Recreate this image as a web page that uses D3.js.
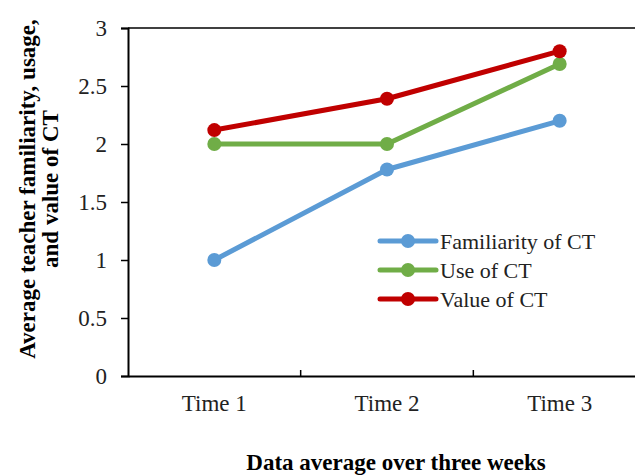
<!DOCTYPE html>
<html>
<head>
<meta charset="utf-8">
<script src="https://cdn.jsdelivr.net/npm/d3@7"></script>
<style>
  html, body { margin: 0; padding: 0; background: #fff; }
  svg text { font-family: "Liberation Serif", "DejaVu Serif", serif; fill: #222; }
</style>
</head>
<body>
<div id="chart"></div>
<script>
const categories = ['Time 1', 'Time 2', 'Time 3'];
const seriesNames = ['Familiarity of CT', 'Use of CT', 'Value of CT'];
const familiarity = [1.0, 1.78, 2.2];
const useOfCT = [2.0, 2.0, 2.69];
const valueOfCT = [2.12, 2.39, 2.8];
const yTicks = [0, 0.5, 1, 1.5, 2, 2.5, 3];
const colors = ['#5B9BD5', '#70AD47', '#C00000'];

const W = 635, H = 475;
const margin = { top: 28, right: -11, bottom: 99, left: 128 };
const width = W - margin.left - margin.right;
const height = H - margin.top - margin.bottom;

const svg = d3.select('#chart').append('svg')
    .attr('width', W).attr('height', H);
const g = svg.append('g')
    .attr('transform', 'translate(' + margin.left + ',' + margin.top + ')');

const x = d3.scaleBand().domain(categories).range([0, width]);
const y = d3.scaleLinear().domain([0, 3]).range([height, 0]);

// top line at max value
g.append('line')
    .attr('x1', 0).attr('x2', width)
    .attr('y1', y(3)).attr('y2', y(3))
    .attr('stroke', '#000').attr('stroke-width', 1.5);

// y axis
const yAxis = g.append('g')
    .call(d3.axisLeft(y).tickValues(yTicks).tickSize(7).tickPadding(14).tickFormat(d3.format('')));
yAxis.attr('font-family', null).attr('font-size', null);
yAxis.select('.domain').attr('stroke', '#000').attr('stroke-width', 2);
yAxis.selectAll('.tick line').attr('stroke', '#000').attr('stroke-width', 1.5);
yAxis.selectAll('text').style('font-size', '23px').attr('fill', '#222');

// x axis with ticks at band boundaries
const xAxis = g.append('g').attr('transform', 'translate(0,' + height + ')')
    .call(d3.axisBottom(x).tickSize(0).tickPadding(19));
xAxis.attr('font-family', null).attr('font-size', null);
xAxis.select('.domain').attr('stroke', '#000').attr('stroke-width', 2);
xAxis.selectAll('text').style('font-size', '23px').attr('fill', '#222');
g.selectAll('.xsep').data(categories.slice(1)).enter().append('line')
    .attr('x1', d => x(d)).attr('x2', d => x(d))
    .attr('y1', height).attr('y2', height - 6)
    .attr('stroke', '#000').attr('stroke-width', 1.5);

// series
const allSeries = [familiarity, useOfCT, valueOfCT];
const line = d3.line()
    .x((d, i) => x(categories[i]) + x.bandwidth() / 2)
    .y(d => y(d));

allSeries.forEach((vals, s) => {
    g.append('path').datum(vals)
        .attr('d', line)
        .attr('fill', 'none')
        .attr('stroke', colors[s])
        .attr('stroke-width', 5)
        .attr('stroke-linejoin', 'round')
        .attr('stroke-linecap', 'round');
    g.selectAll('.pt' + s).data(vals).enter().append('circle')
        .attr('cx', (d, i) => x(categories[i]) + x.bandwidth() / 2)
        .attr('cy', d => y(d))
        .attr('r', 7)
        .attr('fill', colors[s]);
});

// legend
const legend = svg.append('g').attr('transform', 'translate(380,241)');
seriesNames.forEach((name, i) => {
    const row = legend.append('g').attr('transform', 'translate(0,' + (i * 29) + ')');
    row.append('line').attr('x1', 0).attr('x2', 56).attr('y1', 0).attr('y2', 0)
        .attr('stroke', colors[i]).attr('stroke-width', 5).attr('stroke-linecap', 'round');
    row.append('circle').attr('cx', 28).attr('cy', 0).attr('r', 7).attr('fill', colors[i]);
    row.append('text').attr('x', 60).attr('y', 8)
        .style('font-size', '22px').text(name);
});

// axis titles
svg.append('text')
    .attr('x', 396).attr('y', 470)
    .attr('text-anchor', 'middle')
    .style('font-size', '23px').style('font-weight', 'bold')
    .style('fill', '#000')
    .text('Data average over three weeks');

const yTitle = svg.append('text')
    .attr('transform', 'translate(35,189) rotate(-90)')
    .attr('text-anchor', 'middle')
    .style('font-size', '23px').style('font-weight', 'bold')
    .style('fill', '#000');
yTitle.append('tspan').attr('x', 0).attr('y', 0).text('Average teacher familiarity, usage,');
yTitle.append('tspan').attr('x', 0).attr('y', 23).text('and value of CT');
</script>
</body>
</html>
